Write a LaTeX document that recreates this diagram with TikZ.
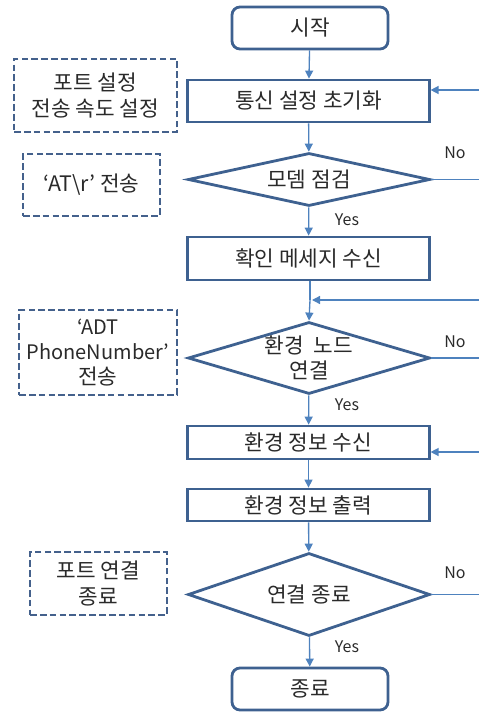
\documentclass[tikz,border=0pt]{standalone}
\usepackage{fontspec}
\setmainfont{Noto Sans CJK KR}
\usetikzlibrary{shapes.geometric,arrows.meta}
\definecolor{boxc}{HTML}{3E6190}
\definecolor{arrc}{HTML}{4E82BE}
\definecolor{dashc}{HTML}{44618C}
\definecolor{txt}{HTML}{2A2A2A}
\begin{document}
\begin{tikzpicture}[x=0.75pt,y=-0.75pt,
  font=\fontsize{16}{19}\selectfont, text=txt,
  procbox/.style={draw=boxc, line width=2.1pt, rectangle, minimum width=181pt, inner sep=0pt, align=center},
  termbox/.style={draw=boxc, line width=2.1pt, rectangle, rounded corners=6pt, minimum width=117pt, minimum height=31.5pt, inner sep=0pt},
  decbox/.style={draw=boxc, line width=2.1pt, diamond, minimum width=181.5pt, inner sep=0pt, align=center},
  notebox/.style={draw=dashc, line width=1.6pt, dash pattern=on 5pt off 2.4pt, rectangle, inner sep=0pt, align=center},
  flow/.style={draw=arrc, line width=1pt, -{Triangle[length=6pt,width=6pt]}},
  plain/.style={draw=arrc, line width=1pt},
  yn/.style={font=\fontsize{12}{14}\selectfont, inner sep=0pt}
]
\useasboundingbox (0,0) rectangle (478,713);
% main column
\node[termbox] (start) at (310,28) {시작};
\node[procbox, minimum height=31.5pt] (init) at (308.5,101) {통신 설정 초기화};
\node[decbox, minimum height=39.75pt, aspect=5] (modem) at (309,179.5) {모뎀 점검};
\node[procbox, minimum height=32.25pt] (ack) at (308.5,258.5) {확인 메세지 수신};
\node[decbox, minimum height=54pt, aspect=3.4] (node) at (309,358) {환경\ \ 노드\\연결};
\node[procbox, minimum height=24.75pt] (recv) at (308.5,442.5) {환경 정보 수신};
\node[procbox, minimum height=24pt] (out) at (308.5,505) {환경 정보 출력};
\node[decbox, minimum height=62.25pt, aspect=2.9] (close) at (309,594.5) {연결 종료};
\node[termbox] (end) at (310,689) {종료};
% notes
\node[notebox, minimum width=122.25pt, minimum height=54.75pt] (n1) at (95.5,95.5) {포트 설정\\전송 속도 설정};
\node[notebox, minimum width=102.75pt, minimum height=46.5pt] (n2) at (91.5,185) {‘AT\textbackslash r’ 전송};
\node[notebox, minimum width=118.5pt, minimum height=63.75pt, font=\fontsize{15}{19}\selectfont] (n3) at (98,352.5) {‘ADT\\PhoneNumber’\\{\fontsize{16}{19}\selectfont 전송}};
\node[notebox, minimum width=102.75pt, minimum height=47.25pt] (n4) at (98.5,583.5) {포트 연결\\종료};
% edge coordinates (right side, cut off)
\coordinate (r1) at (480,90);
\coordinate (r2) at (480,300);
\coordinate (r3) at (480,452);
\coordinate (e1) at (480,179.5);
\coordinate (e2) at (480,358);
\coordinate (e3) at (480,594.5);
\coordinate (j) at (310,300);
% flow arrows
\draw[flow] (start) -- (init);
\draw[flow] (init) -- (modem);
\draw[flow] (modem) -- (ack);
\draw[plain] (ack.south -| j) -- (j);
\draw[flow] (j) -- (node.north);
\draw[flow] (node) -- (recv);
\draw[flow] (recv) -- (out);
\draw[flow] (out) -- (close);
\draw[flow] (close) -- (end);
% feedback arrows
\draw[flow] (r1) -- (init.east |- r1);
\draw[flow, shorten >=1.5pt] (r2) -- (j);
\draw[flow] (r3) -- (recv.east |- r3);
% No branches
\draw[plain] (modem.east) -- (e1);
\draw[plain] (node.east) -- (e2);
\draw[plain] (close.east) -- (e3);
% labels
\node[yn] (no1) at (455,153) {No};
\node[yn] (no2) at (455,342) {No};
\node[yn] (no3) at (455,573) {No};
\node[yn] (yes1) at (347,220) {Yes};
\node[yn] (yes2) at (347,405) {Yes};
\node[yn] (yes3) at (347,647) {Yes};
\end{tikzpicture}
\end{document}
